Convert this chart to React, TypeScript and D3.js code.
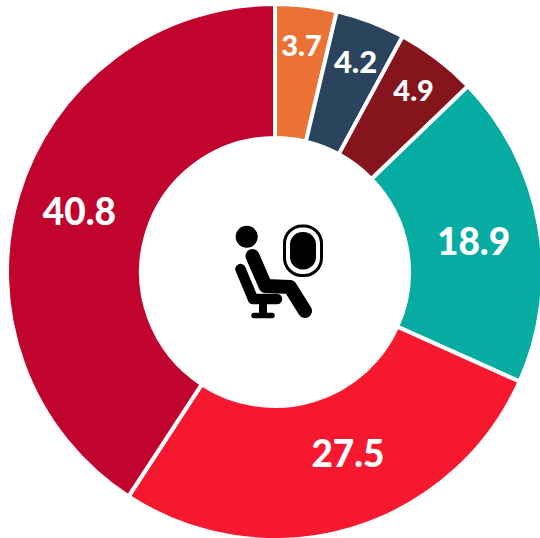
import React from "react";
import * as d3 from "d3";

const categories = ["A", "B", "C", "D", "E", "F"];
const values = [3.7, 4.2, 4.9, 18.9, 27.5, 40.8];
const colors = ["#EA7234", "#2B445E", "#85141C", "#06ABA1", "#F5182F", "#C0042D"];
const labelRadius = [229, 226, 229, 201, 195, 205];
const labelAngleShift = [0, 0, 0, 0.9, -5.6, 0.85];
const fontSizes = [29, 31, 29, 37, 37, 37];

const W = 540, H = 538, CX = 275, CY = 272, R = 268, r0 = 134;

export default function App() {
  const pie = d3.pie<number>().sort(null).value(d => d);
  const arcs = pie(values);
  const arc = d3.arc<d3.PieArcDatum<number>>().innerRadius(r0).outerRadius(R);
  return (
    <svg width={W} height={H} style={{ position: "absolute", left: 0, top: 0, background: "#fff" }}>
      <g transform={`translate(${CX},${CY})`}>
        {arcs.map((a, i) => (
          <path key={categories[i]} d={arc(a) ?? ""} fill={colors[i]} stroke="#fff" strokeWidth={4} />
        ))}
        {arcs.map((a, i) => {
          const t = (a.startAngle + a.endAngle) / 2 + (labelAngleShift[i] * Math.PI) / 180;
          return (
            <text key={categories[i]} x={labelRadius[i] * Math.sin(t)} y={-labelRadius[i] * Math.cos(t)}
              textAnchor="middle" dominantBaseline="central" fill="#fff"
              fontFamily="Lato" fontWeight={900} fontSize={fontSizes[i]}>
              {values[i].toFixed(1)}
            </text>
          );
        })}
      </g>
      <g fill="none" stroke="#000" strokeLinecap="round" strokeLinejoin="round">
        <circle cx={246.7} cy={236.7} r={11} fill="#000" stroke="none" />
        <rect x={284.5} y={226} width={37} height={49.5} rx={17.5} strokeWidth={3} />
        <rect x={290} y={232} width={26} height={37.5} rx={12.5} fill="#000" stroke="none" />
        <path d="M252.5 256 L265.5 286 L290 287 L305 311" strokeWidth={14} />
        <path d="M240.5 269 L253 299 L277 299" strokeWidth={10.5} />
        <path d="M263 300 L263 315" strokeWidth={8} strokeLinecap="butt" />
        <path d="M254 315.5 L272 315.5" strokeWidth={5.5} />
      </g>
    </svg>
  );
}
